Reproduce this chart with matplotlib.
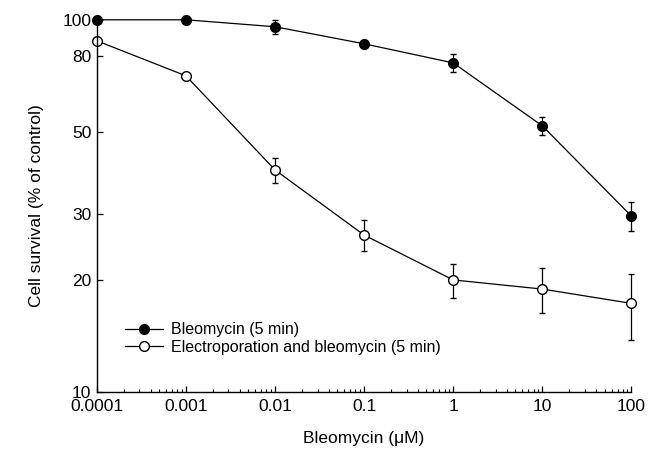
import numpy as np
import matplotlib.pyplot as plt
from matplotlib.lines import Line2D
from matplotlib.ticker import FixedLocator, FixedFormatter, LogLocator, NullFormatter

plt.rcParams['font.family'] = ['Liberation Sans', 'DejaVu Sans']

conc = [0.0001, 0.001, 0.01, 0.1, 1, 10, 100]
x_labels = ['0.0001', '0.001', '0.01', '0.1', '1', '10', '100']
bleo = [100, 100, 95.8, 86.2, 76.6, 51.9, 29.7]
bleo_err = [0, 0, 4.2, 1.2, 4.2, 3.0, 2.7]
ep_bleo = [87.8, 70.7, 39.5, 26.4, 20.0, 18.9, 17.3]
ep_bleo_err = [0, 0, 3.0, 2.5, 2.1, 2.6, 3.5]
y_ticks = [10, 20, 30, 50, 80, 100]
labels = ['Bleomycin (5 min)', 'Electroporation and bleomycin (5 min)']

fig = plt.figure(figsize=(6.59, 4.5), dpi=100)
ax = fig.add_axes([0.147, 0.129, 0.811, 0.827])

fs = 12.5
handles = []
for y, e, fc, lab in [(bleo, bleo_err, 'black', labels[0]),
                      (ep_bleo, ep_bleo_err, 'white', labels[1])]:
    eb = ax.errorbar(conc, y, yerr=e, color='black', lw=0.9, marker='o',
                     ms=7, mfc=fc, mec='black', capsize=2.5, elinewidth=0.9)
    for art in eb.get_children():
        art.set_clip_on(False)
    handles.append(Line2D([], [], color='black', lw=0.9, marker='o', ms=7,
                          mfc=fc, mec='black', label=lab))

ax.set_xscale('log')
ax.set_yscale('log')
ax.set_xlim(0.0001, 100)
ax.set_ylim(10, 100)
ax.xaxis.set_major_locator(FixedLocator(conc))
ax.xaxis.set_major_formatter(FixedFormatter(x_labels))
ax.xaxis.set_minor_locator(LogLocator(base=10, subs=np.arange(2, 10), numticks=20))
ax.xaxis.set_minor_formatter(NullFormatter())
ax.yaxis.set_major_locator(FixedLocator(y_ticks))
ax.yaxis.set_major_formatter(FixedFormatter([str(t) for t in y_ticks]))
ax.yaxis.set_minor_locator(FixedLocator([]))

ax.tick_params(axis='both', which='major', direction='in', length=4, width=0.9,
               labelsize=fs)
ax.tick_params(axis='x', which='major', pad=5)
ax.tick_params(axis='y', which='major', pad=4)
ax.tick_params(axis='x', which='minor', direction='in', length=2.5, width=0.8)
for s in ['top', 'right']:
    ax.spines[s].set_visible(False)
for s in ['left', 'bottom']:
    ax.spines[s].set_linewidth(1.0)

ax.set_xlabel('Bleomycin (\u03bcM)', fontsize=fs, labelpad=12)
ax.set_ylabel('Cell survival (% of control)', fontsize=fs, labelpad=13)

ax.legend(handles=handles, loc='lower left', bbox_to_anchor=(0.052, 0.1),
          frameon=False, fontsize=11.5, handlelength=2.4, handletextpad=0.5,
          labelspacing=0.15, borderaxespad=0, borderpad=0)

fig.savefig('out.png', dpi=100)
